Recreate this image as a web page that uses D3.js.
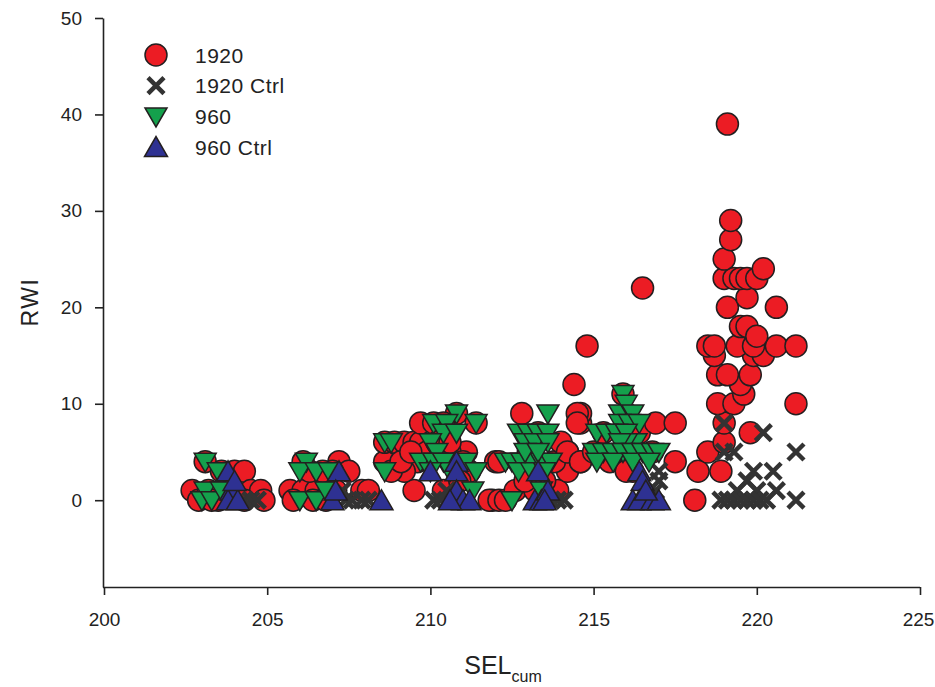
<!DOCTYPE html>
<html>
<head>
<meta charset="utf-8">
<script src="https://cdn.jsdelivr.net/npm/d3@7"></script>
<style>
  body { margin: 0; background: #fff; }
  svg { display: block; font-family: "Liberation Sans", Arial, sans-serif; }
</style>
</head>
<body>
<svg id="chart" width="935" height="687"></svg>
<script>
// Series data, [SELcum, RWI].
const series1920 = [
  [202.7,1],[202.9,0],[203.1,4],[203.2,1],[203.5,0],[203.6,3],[204.0,3],[204.3,3],[203.9,1],[204.5,1],[204.8,1],[204.9,0],[204.3,0],[203.3,0],
  [205.7,1],[206.1,1],[206.5,1],[206.9,1],[206.1,4],[205.8,0],[206.4,0],[206.8,0],[207.1,1],[207.2,4],[207.5,3],[207.0,3],[207.9,1],[208.1,1],[206.3,3],[206.7,3],
  [208.6,4],[208.6,6],[208.9,6],[209.2,6],[209.5,6],[209.7,6],[209.7,8],[210.1,8],[210.8,9],[211.4,8],[210.4,8],[209.5,1],[209.6,4],[209.9,5],[210.4,1],[211.1,5],[210.6,5],[211.0,4],[211.9,0],[212.0,4],[209.2,3],[208.8,3],[210.2,6],[210.6,6],
  [209.1,4],[209.4,5],[211.2,3],[210.9,2],
  [211.8,0],[212.1,0],[212.3,0],[212.1,4],[212.6,1],[212.8,9],[213.3,7],[213.0,5],[213.9,1],[214.2,5],[214.2,3],[214.6,4],[214.6,8],[214.6,9],[213.5,2],[213.8,4],[214.0,6],[213.2,1],[212.9,2],
  [214.4,12],[214.8,16],[214.5,9],[214.5,8],[214.2,5],[214.6,4],[215.0,5],[215.5,4],[215.9,11],[216.0,9],[216.5,22],[216.4,7],[216.9,8],[217.5,8],[217.5,4],[216.2,3],[216.8,5],[215.3,7],[216.0,3],
  [218.1,0],[218.2,3],[218.5,5],[218.9,3],[219.0,6],[219.0,8],[219.8,7],[218.8,10],[219.3,10],[221.2,10],[219.6,11],[219.5,12],[218.8,13],[219.1,13],[219.8,13],
  [218.7,15],[219.9,15],[220.2,15],[218.5,16],[218.7,16],[219.4,16],[219.9,16],[220.6,16],[221.2,16],[219.5,18],[219.7,18],[220.0,17],[219.1,20],[219.7,21],[220.6,20],
  [219.0,23],[219.3,23],[219.5,23],[219.7,23],[220.0,23],[220.2,24],[219.0,25],[219.2,27],[219.2,29],[219.1,39]
];
const series1920Ctrl = [
  [204.5,0],[204.7,0],[204.3,0],
  [207.4,0],[207.6,0],[207.9,0],[208.1,0],[207.3,1],
  [210.1,0],[210.3,0],[210.5,1],[211.1,0],
  [213.9,0],[214.1,0],[213.7,0],
  [216.7,0],[217.0,2],[217.0,3],[216.9,1],
  [219.0,8],[220.2,7],[219.0,5],[219.3,5],[221.2,5],[219.9,3],[220.5,3],[219.7,2],[220.6,1],[219.4,1],[220.0,1],
  [218.9,0],[219.1,0],[219.3,0],[219.5,0],[219.7,0],[219.9,0],[220.1,0],[220.3,0],[221.2,0]
];
const series960 = [
  [203.1,4],[203.1,1],[203.0,0],[203.3,0],[203.5,3],[203.6,1],
  [206.2,4],[206.0,3],[206.5,3],[206.9,3],[206.0,0],[206.5,0],[206.8,1],
  [208.6,6],[208.6,3],[208.8,6],[210.8,9],[211.4,8],[210.1,8],[210.5,8],[210.4,7],[210.0,6],[210.2,5],[209.7,4],[210.1,4],[210.4,4],[211.1,4],[211.4,3],[211.3,1],[210.6,3],[212.3,4],[210.8,7],[210.0,3],
  [212.5,0],[213.6,9],[212.7,7],[213.0,7],[213.3,7],[213.6,7],[212.9,6],[213.2,6],[213.6,6],[212.5,4],[212.8,4],[213.1,4],[213.4,4],[213.7,4],[212.7,3],[213.1,3],[213.5,3],[212.9,5],[213.3,5],[213.4,1],
  [215.9,11],[215.8,9],[216.0,10],[216.2,9],[215.8,8],[216.1,8],[216.4,8],[215.1,7],[215.4,7],[215.7,7],[216.0,7],[216.3,6],[216.0,6],[215.8,6],
  [215.0,5],[215.3,5],[215.6,5],[215.9,5],[216.2,5],[216.5,5],[216.8,5],[217.0,5],[215.1,4],[215.6,4],[216.2,4],[216.7,4]
];
const series960Ctrl = [
  [203.8,3],[203.9,1],[203.8,0],[204.1,0],[204.0,2],
  [207.2,3],[207.0,0],[208.5,0],[207.1,1],
  [210.8,4],[210.0,3],[210.8,3],[210.8,1],[211.0,0],[211.2,0],[210.6,0],
  [213.3,3],[213.2,0],[213.4,0],[213.6,1],[213.5,0],
  [216.4,3],[216.5,2],[216.2,0],[216.4,0],[216.8,0],[217.0,0],[216.6,1]
];
const legendLabels = ["1920", "1920 Ctrl", "960", "960 Ctrl"];
const xTicks = [200, 205, 210, 215, 220, 225];
const yTicks = [0, 10, 20, 30, 40, 50];

(function () {
  let svg = d3.select("#chart");

  // Scales.
  let x = d3.scaleLinear().domain([200, 225]).range([104, 920]);
  let y = d3.scaleLinear().domain([-9, 50]).range([587, 18]);

  // Marker shapes.
  let circle = d3.symbol().type(d3.symbolCircle).size(Math.PI * 11 * 11);
  let triDown = "M-11,-8.5L11,-8.5L0,10.5Z";
  let triUp = "M-11.5,9.5L11.5,9.5L0,-10.5Z";
  let cross = "M-8,-8L8,8M-8,8L8,-8";

  let styles = [
    { data: series1920, path: circle(), fill: "#ec1c24", stroke: "#231f20", sw: 1.5 },
    { data: series1920Ctrl, path: cross, fill: "none", stroke: "#333333", sw: 4.5 },
    { data: series960, path: triDown, fill: "#14a04c", stroke: "#231f20", sw: 1.5 },
    { data: series960Ctrl, path: triUp, fill: "#2e3192", stroke: "#231f20", sw: 1.5 },
  ];

  // Axes.
  let xAxis = svg.append("g")
    .attr("transform", "translate(0,587)")
    .call(d3.axisBottom(x).tickValues(xTicks).tickSize(8).tickPadding(18).tickSizeOuter(0));
  let yAxis = svg.append("g")
    .attr("transform", "translate(103,0)")
    .call(d3.axisLeft(y).tickValues(yTicks).tickSize(8).tickPadding(13).tickSizeOuter(0));
  [xAxis, yAxis].forEach((g) => {
    g.select(".domain").attr("stroke", "#222").attr("stroke-width", 1.6);
    g.selectAll(".tick line").attr("stroke", "#222").attr("stroke-width", 1.6);
    g.selectAll(".tick text")
      .attr("fill", "#222")
      .style("font-size", "19px")
      .style("font-family", "'Liberation Sans', Arial, sans-serif");
  });
  xAxis.select(".domain").attr("d", "M103,0.5H920");
  // Keep the last label inside the window.
  xAxis.selectAll(".tick text").filter((d) => d === 225).attr("dx", -2);

  // Points, one layer per series.
  styles.forEach((s) => {
    svg.append("g")
      .selectAll("path")
      .data(s.data)
      .enter()
      .append("path")
      .attr("transform", (d) => `translate(${x(d[0])},${y(d[1])})`)
      .attr("d", s.path)
      .attr("fill", s.fill)
      .attr("stroke", s.stroke)
      .attr("stroke-width", s.sw);
  });

  // Legend.
  let legend = svg.append("g");
  legendLabels.forEach((label, i) => {
    let s = styles[i];
    let ly = 55 + i * 30.7;
    legend.append("path")
      .attr("transform", `translate(156,${ly})`)
      .attr("d", s.path)
      .attr("fill", s.fill)
      .attr("stroke", s.stroke)
      .attr("stroke-width", s.sw);
    legend.append("text")
      .attr("x", 195)
      .attr("y", ly)
      .attr("dy", "0.36em")
      .attr("fill", "#222")
      .style("font-size", "21px")
      .style("letter-spacing", "0.5px")
      .text(label);
  });

  // Axis titles.
  svg.append("text")
    .attr("transform", "translate(38,302) rotate(-90)")
    .attr("text-anchor", "middle")
    .attr("fill", "#222")
    .style("font-size", "23px")
    .style("letter-spacing", "1.5px")
    .text("RWI");

  let xt = svg.append("text")
    .attr("x", 503)
    .attr("y", 674)
    .attr("text-anchor", "middle")
    .attr("fill", "#222")
    .style("font-size", "25px");
  xt.append("tspan").text("SEL");
  xt.append("tspan").attr("dy", 8).style("font-size", "16px").text("cum");
})();
</script>
</body>
</html>
